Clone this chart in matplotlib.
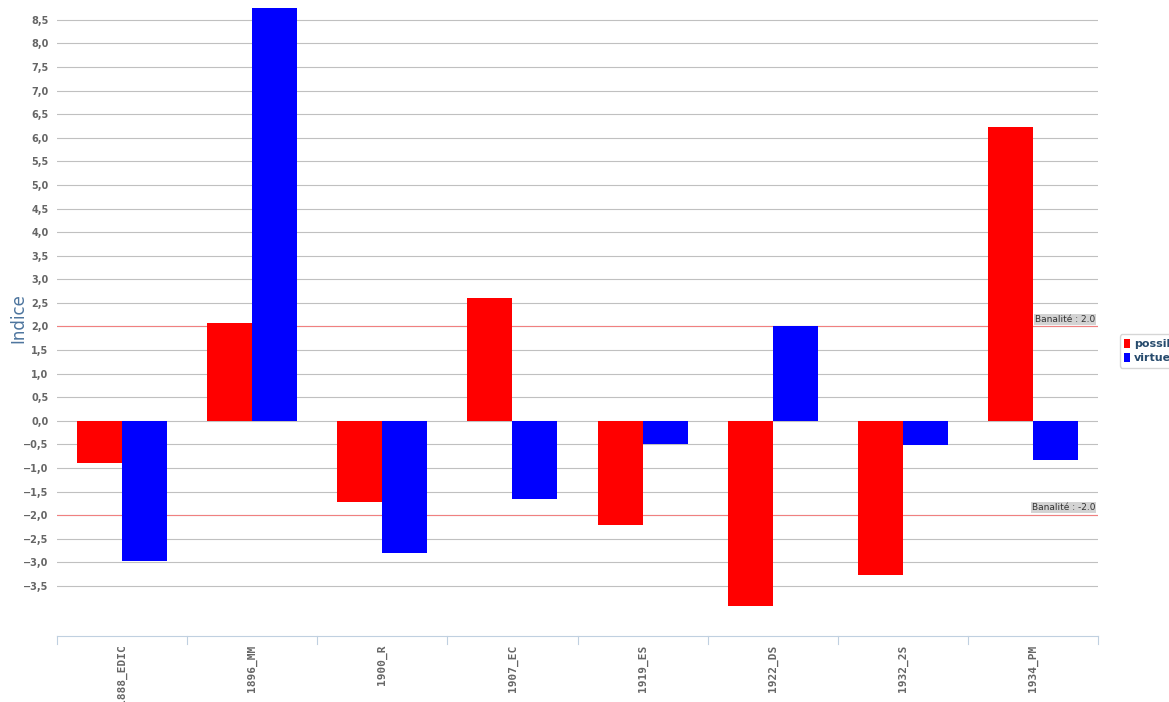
import numpy as np
import matplotlib
matplotlib.use("Agg")
import matplotlib.pyplot as plt
from matplotlib.ticker import FuncFormatter

categories = ["1888_EDIC", "1896_MM", "1900_R", "1907_EC", "1919_ES", "1922_DS", "1932_2S", "1934_PM"]
possible = [-0.89, 2.08, -1.72, 2.61, -2.20, -3.92, -3.26, 6.23]
virtuel = [-2.97, 8.75, -2.80, -1.65, -0.49, 2.01, -0.51, -0.83]
banalite = [2.0, -2.0]

fig = plt.figure(figsize=(11.69, 7.02), dpi=100)
ax = fig.add_axes([57/1169, 66/702, (1098-57)/1169, 636/702])

x = np.arange(len(categories))
w = 45/130
ax.bar(x - w/2, possible, w, color="#ff0000", edgecolor="none", label="possible", zorder=3)
ax.bar(x + w/2, virtuel, w, color="#0000ff", edgecolor="none", label="virtuel", zorder=3)

ax.set_xlim(-0.5, len(categories) - 0.5)
ax.set_ylim(-4.56, 8.92)

yt = np.arange(-3.5, 8.51, 0.5)
ax.set_yticks(yt)
ax.yaxis.set_major_formatter(FuncFormatter(lambda v, p: ("%.1f" % v).replace(".", ",").replace("-", "\u2212")))
ax.grid(axis="y", color="#c0c0c0", linewidth=0.8, zorder=0)
ax.tick_params(axis="y", length=0, pad=6, labelsize=7, labelcolor="#666666")
for t in ax.get_yticklabels():
    t.set_fontweight("bold")

ax.set_xticks(x)
ax.set_xticklabels(categories, rotation=90, fontsize=8, color="#666666", fontweight="bold",
                   va="top", family="DejaVu Sans Mono")
ax.tick_params(axis="x", length=0, pad=6)
for b in np.arange(-0.5, len(categories), 1):
    ax.plot([b, b], [0, -0.012], transform=ax.get_xaxis_transform(), color="#c0d0e0", lw=0.8, clip_on=False)

for s in ["top", "right", "left"]:
    ax.spines[s].set_visible(False)
ax.spines["bottom"].set_color("#c0d0e0")

for b in banalite:
    ax.axhline(b, color="#f08080", linewidth=0.8, zorder=2)
    ax.text(len(categories) - 0.52, b + 0.06, "Banalit\u00e9 : %.1f" % b, fontsize=6.5, color="#333333",
            ha="right", va="bottom", zorder=4,
            bbox=dict(boxstyle="square,pad=0.1", facecolor="#d3d3d3", edgecolor="none"))

ax.set_ylabel("Indice", fontsize=12, color="#4d759e")
ax.yaxis.set_label_coords(-0.028, 0.5)

leg = fig.legend(loc="center left", bbox_to_anchor=(1114/1169, 351/702), fontsize=8,
                 frameon=True, handlelength=0.5, handleheight=0.9, handletextpad=0.4,
                 borderpad=0.4, labelspacing=0.3, fancybox=True)
leg.get_frame().set_edgecolor("#cccccc")
for t in leg.get_texts():
    t.set_color("#274b6d")
    t.set_fontweight("bold")

fig.savefig("out.png", dpi=100)
